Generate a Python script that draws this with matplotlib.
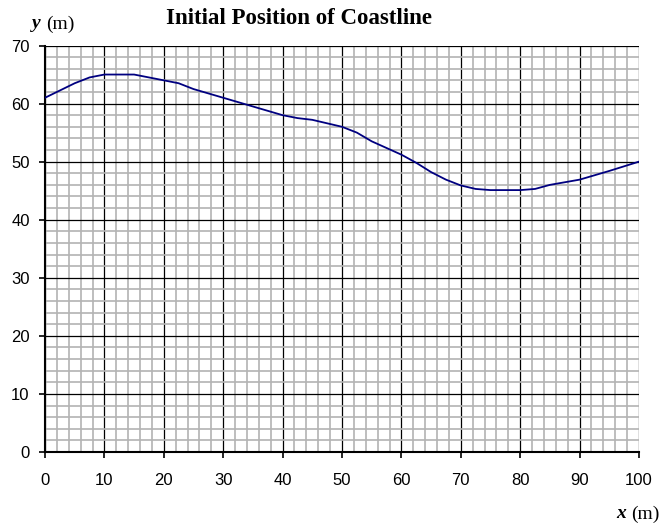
import matplotlib
matplotlib.use("Agg")
import matplotlib.pyplot as plt
import numpy as np

# coastline points
x = [0, 2, 5, 7.5, 10, 15, 20, 22.5, 25, 30, 35, 40, 42.5, 45, 50, 52.5, 55,
     60, 62.5, 65, 67.5, 70, 72.5, 75, 80, 82.5, 85, 90, 95, 100]
y = [61, 62, 63.5, 64.5, 65, 65, 64, 63.5, 62.5, 61, 59.5, 58, 57.5, 57.2, 56,
     55, 53.5, 51.2, 49.8, 48.2, 46.9, 45.9, 45.3, 45.1, 45.1, 45.3, 46, 46.9,
     48.4, 50]

W, H = 663, 523
fig = plt.figure(figsize=(W / 100, H / 100), dpi=100)
ax = fig.add_axes([45 / W, 1 - 452 / H, 594 / W, 406.5 / H])

ax.set_xlim(0, 100)
ax.set_ylim(0, 70)
ax.set_xticks(np.arange(0, 101, 10))
ax.set_yticks(np.arange(0, 71, 10))
ax.set_xticks(np.arange(0, 101, 2), minor=True)
ax.set_yticks(np.arange(0, 71, 2), minor=True)
ax.grid(which='minor', color='#b3b3b3', lw=1.2)
ax.grid(which='major', color='black', lw=0.9)
ax.set_axisbelow(True)
ax.tick_params(which='minor', length=0)
ax.tick_params(which='major', direction='out', length=4, width=1.2,
               labelsize=12)
ax.tick_params(axis='x', pad=11)
ax.tick_params(axis='y', pad=7)
for lab in ax.get_xticklabels() + ax.get_yticklabels():
    lab.set_fontfamily('Liberation Sans')

for s in ['top', 'right']:
    ax.spines[s].set_visible(False)
for s in ['left', 'bottom']:
    ax.spines[s].set_linewidth(1.5)
    ax.spines[s].set_zorder(3)

ax.plot(x, y, color='#000080', lw=1.3, zorder=4)

fig.text(166 / W, 1 - 18 / H, 'Initial Position of Coastline', ha='left',
         va='center', fontsize=16.5, fontweight='bold',
         family='Liberation Serif')
fig.text(32 / W, 1 - 24 / H, 'y', ha='left', va='center', fontsize=14,
         fontweight='bold', fontstyle='italic', family='Liberation Serif')
fig.text(46 / W, 1 - 24 / H, '(m)', ha='left', va='center', fontsize=14,
         family='Liberation Serif')
fig.text(616 / W, 1 - 514 / H, 'x', ha='left', va='center', fontsize=14,
         fontweight='bold', fontstyle='italic', family='Liberation Serif')
fig.text(631 / W, 1 - 514 / H, '(m)', ha='left', va='center', fontsize=14,
         family='Liberation Serif')

fig.savefig('out.png', dpi=100)
